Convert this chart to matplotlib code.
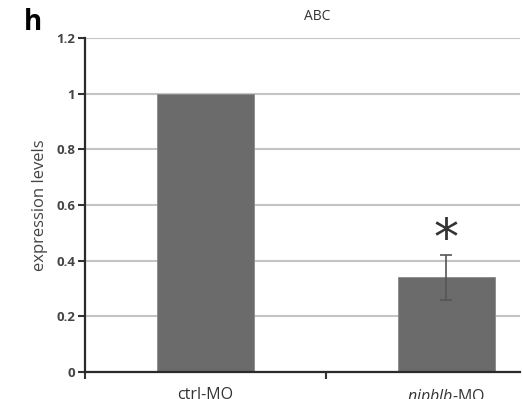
import numpy as np
import matplotlib
matplotlib.use("Agg")
import matplotlib.pyplot as plt

plt.rcParams['font.family'] = ['Open Sans', 'DejaVu Sans']
plt.rcParams['mathtext.fontset'] = 'custom'
plt.rcParams['mathtext.it'] = 'Open Sans:italic'
plt.rcParams['mathtext.rm'] = 'Open Sans'

# data
groups = ["ctrl-MO", "$\\it{nipblb}$-MO"]
values = [1.0, 0.34]
errors = [0.0, 0.082]
yticks = [0, 0.2, 0.4, 0.6, 0.8, 1, 1.2]
ytick_labels = ["0", "0.2", "0.4", "0.6", "0.8", "1", "1.2"]

fig = plt.figure(figsize=(5.23, 3.99), dpi=100)
ax = fig.add_axes([85/523, 1-372/399, (520-85)/523, (372-38)/399])

x = np.arange(len(groups))
ax.set_axisbelow(True)
ax.yaxis.grid(True, color="#c4c4c4", linewidth=1.5)
ax.bar(x, values, width=0.4, color="#6b6b6b", edgecolor="#8a8a8a", linewidth=0.6)
ax.errorbar(x[1:], values[1:], yerr=errors[1:], fmt="none", ecolor="#555555",
            elinewidth=1.2, capsize=4, capthick=1.2)
ax.text(x[1], 0.475, "*", ha="center", va="center", fontsize=36, color="#333333",
        family="DejaVu Sans")

ax.set_xlim(-0.5, 1.305)
ax.set_ylim(0, 1.2)
ax.set_yticks(yticks)
ax.set_yticklabels(ytick_labels, fontsize=9.5, fontweight="bold", color="#444444")
ax.set_xticks([-0.5, 0.5])
ax.set_xticklabels([])
ax.set_xticks(x, minor=True)
ax.set_xticklabels(groups, minor=True, fontsize=11.5, color="#333333")
ax.tick_params(axis="x", which="minor", length=0, pad=11)
ax.tick_params(axis="x", which="major", length=5, width=1.5, color="#333333", direction="out")
ax.tick_params(axis="y", length=5, width=1.5, color="#333333", direction="out", pad=2)

for s in ["top", "right"]:
    ax.spines[s].set_visible(False)
for s in ["left", "bottom"]:
    ax.spines[s].set_linewidth(1.6)
    ax.spines[s].set_color("#2a2a2a")

ax.set_ylabel("expression levels", fontsize=12, color="#444444", labelpad=6)
fig.text(317/523, 1-16/399, "ABC", ha="center", va="center", fontsize=10, color="#333333")
fig.text(33/523, 1-23/399, "h", ha="center", va="center", fontsize=20, fontweight="bold")

fig.savefig("out.png", dpi=100)
